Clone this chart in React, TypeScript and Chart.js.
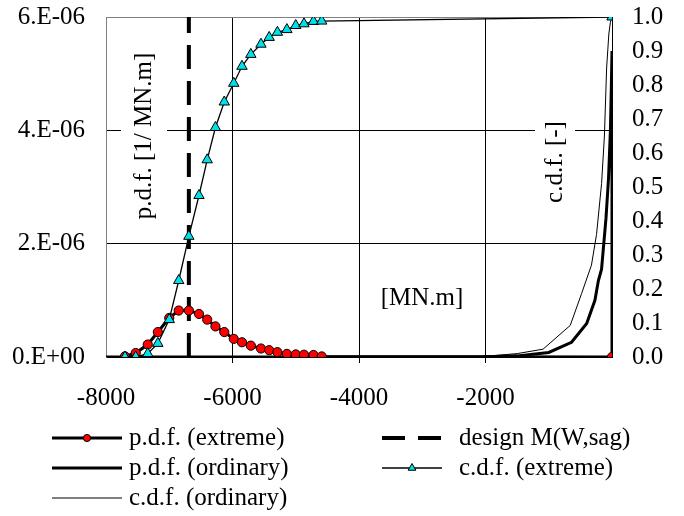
import React, { useEffect, useRef } from 'react';
import { Chart, registerables } from 'chart.js';

Chart.register(...registerables);

const FONT = "'Liberation Serif', 'Times New Roman', serif";

// ---- data (x in MN.m) ----
const extremeM = [-7700, -7530, -7340, -7180, -7000, -6850, -6690, -6530, -6400, -6270, -6130, -5980, -5850, -5710, -5550, -5420, -5290, -5140, -5000, -4870, -4720, -4590, 0];
const pdfExtreme = [0.01e-6, 0.07e-6, 0.22e-6, 0.44e-6, 0.69e-6, 0.82e-6, 0.82e-6, 0.76e-6, 0.66e-6, 0.54e-6, 0.44e-6, 0.32e-6, 0.26e-6, 0.2e-6, 0.15e-6, 0.12e-6, 0.085e-6, 0.055e-6, 0.045e-6, 0.04e-6, 0.035e-6, 0.01e-6, 0];
const cdfExtreme = [0, 0, 0.01, 0.04, 0.11, 0.225, 0.355, 0.475, 0.58, 0.675, 0.75, 0.805, 0.855, 0.89, 0.92, 0.94, 0.955, 0.963, 0.975, 0.98, 0.987, 0.988, 1.0];

const designM = [-6690, -6690];
const designY = [0, 6e-6];

const pdfOrdM = [-8000, -3000, -2000, -1500, -1000, -640, -400, -270, -215, -165, -95, -55, -25, -10, 0, 0];
const pdfOrdinary = [0, 0, 0.003e-6, 0.02e-6, 0.08e-6, 0.26e-6, 0.59e-6, 1.0e-6, 1.35e-6, 1.55e-6, 2.45e-6, 3.15e-6, 4.0e-6, 4.8e-6, 5.4e-6, 0];

const cdfOrdM = [-8000, -3000, -2000, -1500, -1090, -660, -480, -325, -245, -165, -120, -85, -50, -25, 0];
const cdfOrdinary = [0, 0, 0.002, 0.01, 0.023, 0.093, 0.187, 0.27, 0.36, 0.51, 0.65, 0.85, 0.95, 0.985, 1.0];

const seriesLabels = ['p.d.f. (extreme)', 'design M(W,sag)', 'p.d.f. (ordinary)', 'c.d.f. (extreme)', 'c.d.f. (ordinary)'];
const leftTitle = 'p.d.f. [1/ MN.m]';
const rightTitle = 'c.d.f. [-]';
const xTitle = '[MN.m]';

const pts = (xs: number[], ys: number[]) => xs.map((x, i) => ({ x, y: ys[i] }));

const titlesPlugin = {
  id: 'titles',
  beforeDatasetsDraw(chart: any) {
    const ctx = chart.ctx;
    ctx.save();
    ctx.font = `25px ${FONT}`;
    ctx.textAlign = 'center';
    ctx.textBaseline = 'middle';
    const drawRot = (t: string, x: number, y: number, bw: number, bh: number) => {
      ctx.save();
      ctx.translate(x, y);
      ctx.rotate(-Math.PI / 2);
      ctx.fillStyle = '#ffffff';
      ctx.fillRect(-bh / 2, -bw / 2, bh, bw);
      ctx.fillStyle = '#000000';
      ctx.fillText(t, 0, 0);
      ctx.restore();
    };
    drawRot(leftTitle, 144, 136, 46, 186);
    drawRot(rightTitle, 555, 162, 40, 96);
    ctx.fillStyle = '#000000';
    ctx.fillText(xTitle, 422, 298);
    ctx.restore();
  },
};

const legendPlugin = {
  id: 'xlLegend',
  afterDraw(chart: any) {
    const ctx = chart.ctx;
    const cols = [
      { x1: 52, x2: 122, tx: 129 },
      { x1: 382, x2: 442, tx: 459 },
    ];
    const rows = [438, 468, 498];
    chart.data.datasets.forEach((ds: any, i: number) => {
      const c = cols[i % 2];
      const y = rows[Math.floor(i / 2)];
      ctx.save();
      ctx.strokeStyle = ds.borderColor;
      ctx.lineWidth = ds.borderWidth;
      ctx.setLineDash(ds.borderDash ? [23, 13] : []);
      ctx.beginPath();
      ctx.moveTo(c.x1, y);
      ctx.lineTo(c.x2, y);
      ctx.stroke();
      ctx.setLineDash([]);
      const cx = (c.x1 + c.x2) / 2;
      if (ds.pointRadius > 0) {
        ctx.fillStyle = ds.pointBackgroundColor;
        ctx.strokeStyle = ds.pointBorderColor;
        ctx.lineWidth = 1;
        ctx.beginPath();
        if (ds.pointStyle === 'triangle') {
          const r = 4.5;
          for (let k = 0; k < 3; k++) {
            const a = (k * 2 * Math.PI) / 3;
            const px = cx + Math.sin(a) * r;
            const py = y - Math.cos(a) * r;
            if (k === 0) ctx.moveTo(px, py);
            else ctx.lineTo(px, py);
          }
          ctx.closePath();
        } else {
          ctx.arc(cx, y, 3.6, 0, Math.PI * 2);
        }
        ctx.fill();
        ctx.stroke();
      }
      ctx.font = `25px ${FONT}`;
      ctx.fillStyle = '#000000';
      ctx.textAlign = 'left';
      ctx.textBaseline = 'middle';
      ctx.fillText(ds.label, c.tx, y);
      ctx.restore();
    });
  },
};

export default function App() {
  const ref = useRef<HTMLCanvasElement>(null);

  useEffect(() => {
    if (!ref.current) return;
    const chart = new Chart(ref.current, {
      type: 'line',
      data: {
        datasets: [
          {
            label: seriesLabels[0],
            data: pts(extremeM, pdfExtreme),
            yAxisID: 'y',
            borderColor: '#000000',
            borderWidth: 3,
            pointStyle: 'circle',
            pointRadius: 4.6,
            pointBackgroundColor: '#ff0000',
            pointBorderColor: '#000000',
            pointBorderWidth: 1,
            order: 1,
          },
          {
            label: seriesLabels[1],
            data: pts(designM, designY),
            yAxisID: 'y',
            borderColor: '#000000',
            borderWidth: 4,
            borderDash: [24, 12],
            borderCapStyle: 'butt',
            pointRadius: 0,
            order: 2,
          },
          {
            label: seriesLabels[2],
            data: pts(pdfOrdM, pdfOrdinary),
            yAxisID: 'y',
            borderColor: '#000000',
            borderWidth: 3,
            pointRadius: 0,
            order: 4,
          },
          {
            label: seriesLabels[3],
            data: pts(extremeM, cdfExtreme),
            yAxisID: 'y2',
            borderColor: '#000000',
            borderWidth: 1.3,
            pointStyle: 'triangle',
            pointRadius: 6,
            pointBackgroundColor: '#00e0e8',
            pointBorderColor: '#000000',
            pointBorderWidth: 1,
            order: 0,
          },
          {
            label: seriesLabels[4],
            data: pts(cdfOrdM, cdfOrdinary),
            yAxisID: 'y2',
            borderColor: '#000000',
            borderWidth: 1,
            pointRadius: 0,
            order: 3,
          },
        ],
      },
      options: {
        animation: false,
        responsive: false,
        devicePixelRatio: 1,
        layout: { padding: { top: 17, left: 0, right: 0, bottom: 0 } },
        elements: { line: { tension: 0 } },
        plugins: {
          legend: { display: false },
          tooltip: { enabled: false },
        },
        font: { family: FONT, size: 25 },
        scales: {
          x: {
            type: 'linear',
            position: 'bottom',
            min: -8000,
            max: 0,
            afterFit: (s: any) => {
              s.height = 159;
              s.paddingLeft = 0;
              s.paddingRight = 0;
            },
            ticks: {
              stepSize: 2000,
              autoSkip: false,
              maxRotation: 0,
              padding: 20,
              color: '#000000',
              font: { family: FONT, size: 25 },
              callback: (v: any) => (Number(v) === 0 ? '' : String(v)),
            },
            grid: {
              color: (c: any) => (c.index === 0 || c.index === 4 ? 'rgba(0,0,0,0)' : '#000000'),
              tickColor: (c: any) => (c.index === 0 || c.index === 4 ? 'rgba(0,0,0,0)' : '#000000'),
              lineWidth: 1,
              tickLength: 6,
            },
            border: { display: true, color: '#000000', width: 1 },
          },
          y: {
            type: 'linear',
            position: 'left',
            min: 0,
            max: 6e-6,
            afterFit: (s: any) => {
              s.width = 106;
              s.paddingTop = 0;
              s.paddingBottom = 0;
            },
            ticks: {
              stepSize: 2e-6,
              autoSkip: false,
              padding: 21,
              color: '#000000',
              font: { family: FONT, size: 25 },
              callback: (v: any) => {
                const n = Math.round(Number(v) * 1e6);
                return n === 0 ? '0.E+00' : n + '.E-06';
              },
            },
            grid: {
              drawTicks: false,
              color: (c: any) => (c.index === 0 ? 'rgba(0,0,0,0)' : c.index === 3 ? '#808080' : '#000000'),
              lineWidth: 1,
            },
            border: { display: true, color: '#808080', width: 1 },
          },
          y2: {
            type: 'linear',
            position: 'right',
            min: 0,
            max: 1,
            afterFit: (s: any) => {
              s.width = 72;
              s.paddingTop = 0;
              s.paddingBottom = 0;
            },
            ticks: {
              stepSize: 0.1,
              autoSkip: false,
              padding: 20,
              color: '#000000',
              font: { family: FONT, size: 25 },
              callback: (v: any) => Number(v).toFixed(1),
            },
            grid: { drawOnChartArea: false, drawTicks: false },
            border: { display: true, color: '#000000', width: 1 },
          },
        },
      } as any,
      plugins: [titlesPlugin, legendPlugin],
    });
    return () => chart.destroy();
  }, []);

  return (
    <div style={{ position: 'absolute', left: 0, top: 0, width: 684, height: 516, background: '#ffffff' }}>
      <canvas ref={ref} width={684} height={516} style={{ display: 'block', width: 684, height: 516 }} />
    </div>
  );
}
